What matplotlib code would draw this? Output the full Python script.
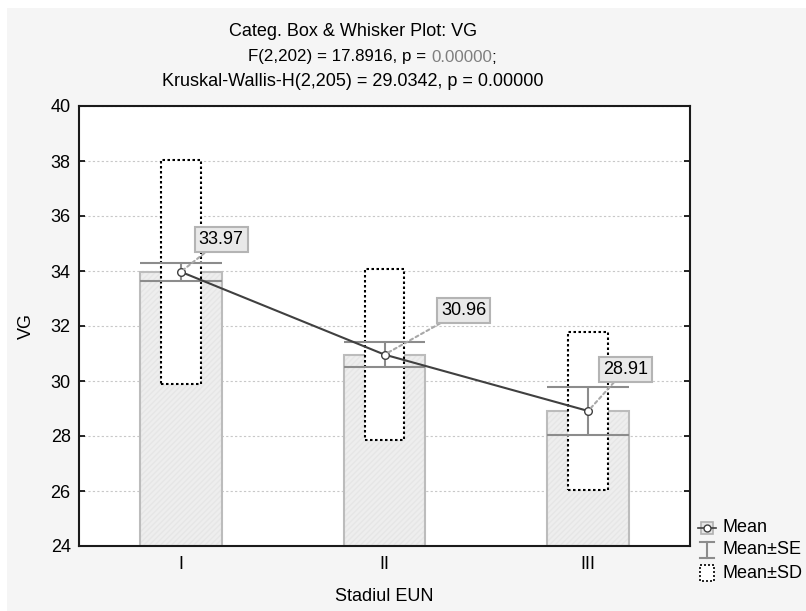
import matplotlib
matplotlib.use("Agg")
import matplotlib.pyplot as plt
from matplotlib.patches import Rectangle
from matplotlib.lines import Line2D

plt.rcParams['font.family'] = ['Liberation Sans', 'DejaVu Sans']

categories = ['I', 'II', 'III']
means = [33.97, 30.96, 28.91]
se = [0.33, 0.45, 0.86]
sd = [4.07, 3.10, 2.86]
mean_labels = ['33.97', '30.96', '28.91']
label_offsets = [(29, 23), (57, 32), (27, 30)]  # offset points for value boxes
yticks = [24, 26, 28, 30, 32, 34, 36, 38, 40]

FS = 13
W, H = 806, 611
fig = plt.figure(figsize=(W / 100, H / 100), dpi=100, facecolor='white')

# light gray panel like the Statistica graph window
fig.patches.append(Rectangle((7 / W, 0), 1, 1 - 8 / H, transform=fig.transFigure,
                             facecolor='#f5f5f5', edgecolor='none', zorder=-10))

ax = fig.add_axes([79 / W, 65 / H, (690 - 79) / W, (546 - 106) / H])
ax.set_facecolor('white')

x = list(range(1, len(categories) + 1))
bar_w = 0.40
box_w = 0.195

# mean bars
ax.bar(x, [m - 24 for m in means], bottom=24, width=bar_w, color='#eeeeee',
       edgecolor='#e6e6e6', hatch='//////', linewidth=0, zorder=2)
ax.bar(x, [m - 24 for m in means], bottom=24, width=bar_w, fill=False,
       edgecolor='#bcbcbc', linewidth=1.5, zorder=2.1)

# mean +/- SD boxes
for xi, m, s in zip(x, means, sd):
    ax.add_patch(Rectangle((xi - box_w / 2, m - s), box_w, 2 * s, facecolor='white',
                           edgecolor='black', linestyle=(0, (1.2, 1.2)), linewidth=1.5,
                           zorder=3))

# mean +/- SE whiskers
for xi, m, e in zip(x, means, se):
    ax.vlines(xi, m - e, m + e, color='#8c8c8c', linewidth=1.5, zorder=4)
    ax.hlines([m - e, m + e], xi - bar_w / 2, xi + bar_w / 2, color='#8c8c8c',
              linewidth=1.5, zorder=4)

# means
ax.plot(x, means, color='#404040', linewidth=1.5, marker='o', markersize=5.5,
        markerfacecolor='white', markeredgecolor='#404040', markeredgewidth=1, zorder=5)

for xi, m, lab, off in zip(x, means, mean_labels, label_offsets):
    ax.annotate(lab, (xi, m), xytext=off, textcoords='offset points', ha='center',
                va='center', fontsize=FS, zorder=6,
                bbox=dict(boxstyle='square,pad=0.22', facecolor='#e9e9e9',
                          edgecolor='#b4b4b4', linewidth=1.5),
                arrowprops=dict(arrowstyle='-', color='#a8a8a8', linestyle=(0, (1.5, 1.5)),
                                linewidth=1.5, shrinkA=0, shrinkB=3))

ax.set_xlim(0.5, 3.5)
ax.set_ylim(24, 40)
ax.set_yticks(yticks)
ax.set_xticks(x)
ax.set_xticklabels(categories)
ax.grid(axis='y', color='#c8c8c8', linestyle=(0, (2, 2)), linewidth=0.8, zorder=0)
ax.set_axisbelow(True)
for sp in ax.spines.values():
    sp.set_linewidth(1.5)
    sp.set_color('#1a1a1a')
ax.tick_params(axis='y', direction='in', length=4, width=1.2, right=True, labelsize=FS, pad=6)
ax.tick_params(axis='x', direction='in', length=4, width=1.2, labelsize=FS, pad=7)
ax.set_xlabel('Stadiul EUN', fontsize=FS, labelpad=11)
ax.set_ylabel('VG', fontsize=FS, labelpad=11)

# titles
cx = 353 / W
fig.text(cx, 1 - 32 / H, 'Categ. Box & Whisker Plot: VG', ha='center', va='center', fontsize=FS)
fig.text(cx, 1 - 82 / H, 'Kruskal-Wallis-H(2,205) = 29.0342, p = 0.00000', ha='center',
         va='center', fontsize=FS)
FS2 = 12.2
parts = [('F(2,202) = 17.8916, p = ', 'black'), ('0.00000', '#7f7f7f'), (';', 'black')]
r = fig.canvas.get_renderer()
tmp = [fig.text(0, 0, p, fontsize=FS2) for p, _ in parts]
widths = [t.get_window_extent(r).width for t in tmp]
for t in tmp:
    t.remove()
xpos = 248
for (p, c), w in zip(parts, widths):
    fig.text(xpos / W, 1 - 57 / H, p, ha='left', va='center', fontsize=FS2, color=c)
    xpos += w

# legend (drawn in figure pixels)
lg = fig.add_axes([0, 0, 1, 1], zorder=10)
lg.set_xlim(0, W)
lg.set_ylim(H, 0)
lg.axis('off')
sx = 707
lg.add_patch(Rectangle((sx - 6, 522), 12, 12, facecolor='#e6e6e6', edgecolor='#b0b0b0', lw=1.2))
lg.add_line(Line2D([sx - 9, sx + 9], [528, 528], color='#404040', lw=1.2))
lg.add_line(Line2D([sx], [528], marker='o', ms=5, mfc='white', mec='#404040', mew=1))
lg.add_line(Line2D([sx, sx], [542, 558], color='#8c8c8c', lw=1.5))
lg.add_line(Line2D([sx - 7, sx + 7], [542, 542], color='#8c8c8c', lw=1.5))
lg.add_line(Line2D([sx - 7, sx + 7], [558, 558], color='#8c8c8c', lw=1.5))
lg.add_patch(Rectangle((sx - 7, 565), 14, 16, facecolor='white', edgecolor='black',
                       linestyle=(0, (1.2, 1.2)), lw=1.2))
for yy, txt in zip([528, 550, 573], ['Mean', 'Mean±SE', 'Mean±SD']):
    lg.text(722, yy, txt, ha='left', va='center', fontsize=FS)

fig.savefig('out.png', dpi=100, facecolor=fig.get_facecolor())
